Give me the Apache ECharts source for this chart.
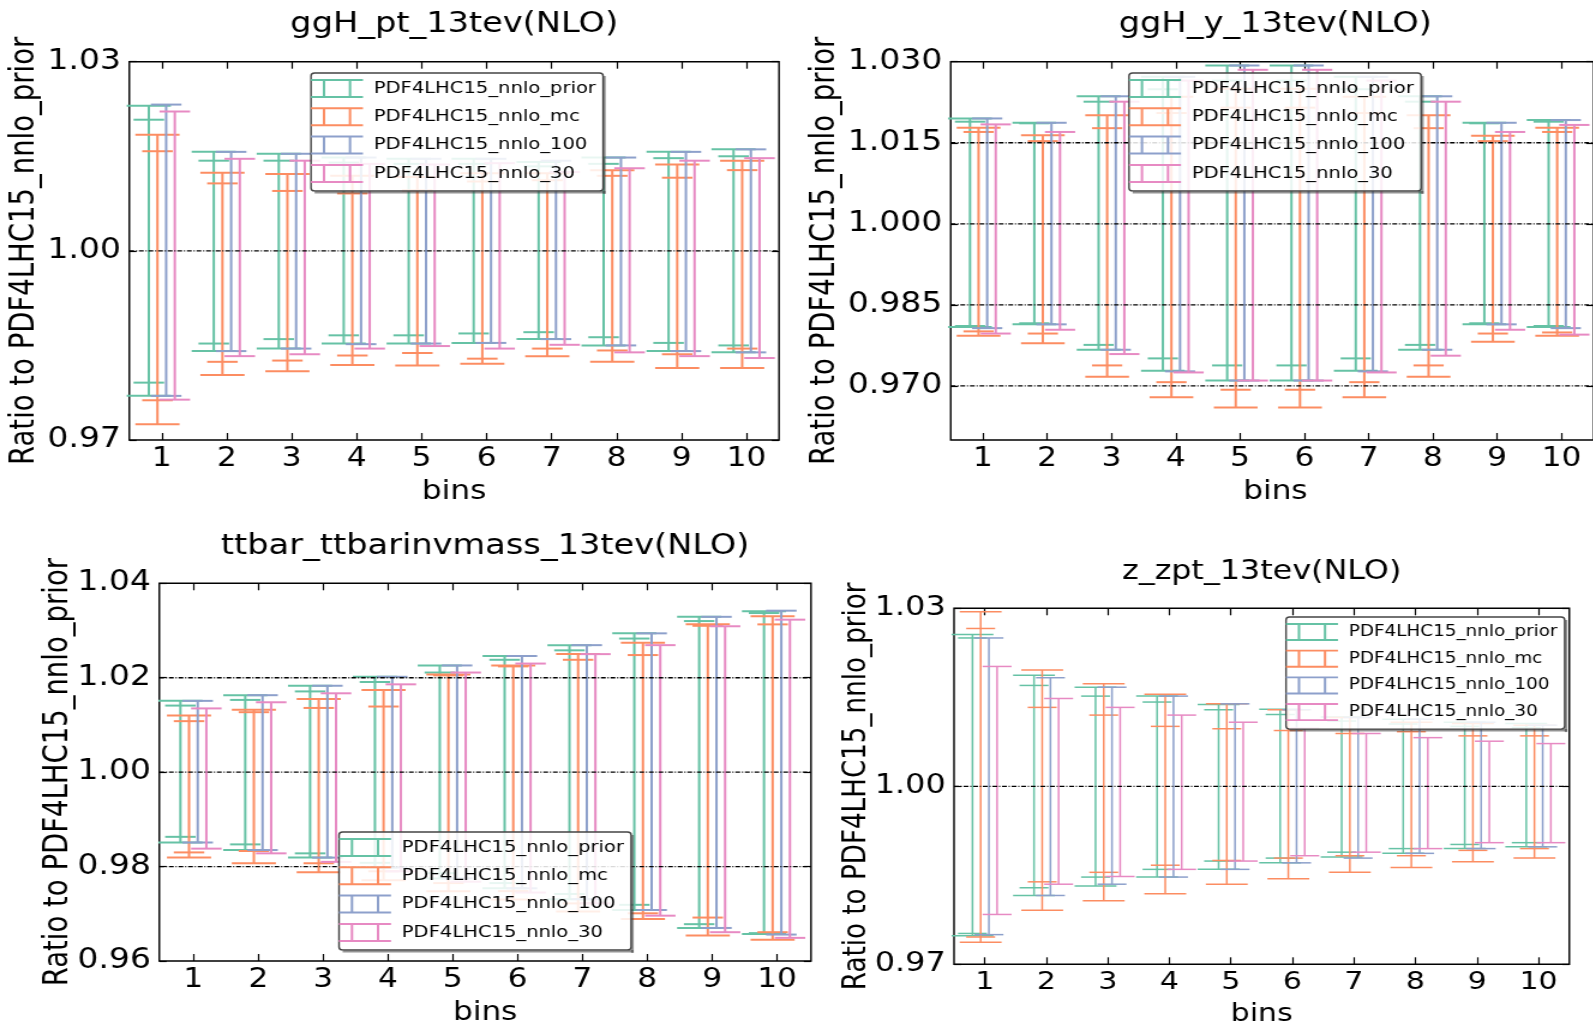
<!DOCTYPE html>
<html><head><meta charset="utf-8">
<script src="https://cdn.jsdelivr.net/npm/echarts@6/dist/echarts.min.js"></script>
<style>
html,body{margin:0;padding:0;background:#fff;overflow:hidden;width:1593px;height:1026px}
#wrap{width:1593px;height:1026px;overflow:hidden;position:relative;background:#fff}
#chart{width:1328px;height:1026px;transform:scaleX(1.2);transform-origin:0 0;position:absolute;left:0;top:0}
</style></head><body><div id="wrap"><div id="chart"></div></div>
<script>
// ---------------- data ----------------
const binLabels = [1, 2, 3, 4, 5, 6, 7, 8, 9, 10];
const seriesNames = ['PDF4LHC15_nnlo_prior', 'PDF4LHC15_nnlo_mc', 'PDF4LHC15_nnlo_100', 'PDF4LHC15_nnlo_30'];
const titles = ['ggH_pt_13tev(NLO)', 'ggH_y_13tev(NLO)', 'ttbar_ttbarinvmass_13tev(NLO)', 'z_zpt_13tev(NLO)'];
const xName = 'bins';
const yName = 'Ratio to PDF4LHC15_nnlo_prior';

// y tick labels per panel
const ptYTicks = [0.97, 1.00, 1.03];
const yYTicks = [0.970, 0.985, 1.000, 1.015, 1.030];
const ttYTicks = [0.96, 0.98, 1.00, 1.02, 1.04];
const zYTicks = [0.97, 1.00, 1.03];
// dotted reference lines
const ptGrid = [1.00];
const yGrid = [0.970, 0.985, 1.000, 1.015];
const ttGrid = [0.98, 1.00, 1.02];
const zGrid = [1.00];

// Monte Carlo sets: [outerLow, innerLow, innerHigh, outerHigh] ; Hessian sets: [low, high]
const ptPrior = [[0.9770,0.9791,1.0208,1.0230],[0.9841,0.9853,1.0143,1.0157],[0.9845,0.9860,1.0143,1.0154],[0.9853,0.9866,1.0140,1.0148],[0.9853,0.9866,1.0138,1.0146],[0.9854,0.9869,1.0138,1.0146],[0.9860,0.9871,1.0134,1.0141],[0.9850,0.9863,1.0138,1.0148],[0.9841,0.9854,1.0147,1.0157],[0.9839,0.9850,1.0150,1.0161]];
const ptMc = [[0.9725,0.9763,1.0158,1.0184],[0.9803,0.9824,1.0107,1.0124],[0.9809,0.9826,1.0095,1.0122],[0.9819,0.9834,1.0091,1.0119],[0.9818,0.9838,1.0096,1.0117],[0.9821,0.9829,1.0110,1.0123],[0.9833,0.9845,1.0112,1.0123],[0.9824,0.9842,1.0119,1.0128],[0.9814,0.9836,1.0116,1.0137],[0.9814,0.9845,1.0128,1.0143]];
const ptH100 = [[0.9770,1.0232],[0.9841,1.0157],[0.9845,1.0154],[0.9852,1.0148],[0.9853,1.0146],[0.9854,1.0146],[0.9860,1.0143],[0.9850,1.0148],[0.9841,1.0157],[0.9839,1.0161]];
const ptH30 = [[0.9764,1.0221],[0.9833,1.0146],[0.9836,1.0143],[0.9845,1.0138],[0.9849,1.0137],[0.9845,1.0139],[0.9851,1.0125],[0.9839,1.0131],[0.9833,1.0143],[0.9830,1.0147]];

const yPrior = [[0.9809,0.9811,1.0189,1.0195],[0.9814,0.9816,1.0186,1.0187],[0.9767,0.9776,1.0226,1.0236],[0.9728,0.9751,1.0249,1.0272],[0.9710,0.9738,1.0265,1.0293],[0.9710,0.9738,1.0265,1.0293],[0.9728,0.9751,1.0249,1.0272],[0.9767,0.9776,1.0226,1.0236],[0.9814,0.9816,1.0186,1.0187],[0.9809,0.9811,1.0189,1.0192]];
const yMc = [[0.9793,0.9801,1.0170,1.0178],[0.9779,0.9797,1.0153,1.0164],[0.9717,0.9738,1.0177,1.0201],[0.9679,0.9707,1.0205,1.0235],[0.9660,0.9693,1.0215,1.0250],[0.9660,0.9693,1.0215,1.0250],[0.9679,0.9707,1.0205,1.0235],[0.9717,0.9738,1.0177,1.0201],[0.9782,0.9797,1.0153,1.0163],[0.9793,0.9799,1.0170,1.0178]];
const yH100 = [[0.9807,1.0195],[0.9814,1.0187],[0.9767,1.0236],[0.9727,1.0272],[0.9710,1.0293],[0.9710,1.0293],[0.9727,1.0272],[0.9767,1.0236],[0.9814,1.0187],[0.9807,1.0192]];
const yH30 = [[0.9797,1.0184],[0.9804,1.0170],[0.9759,1.0226],[0.9725,1.0265],[0.9710,1.0285],[0.9710,1.0285],[0.9725,1.0265],[0.9756,1.0226],[0.9804,1.0170],[0.9795,1.0183]];

const ttPrior = [[0.9851,0.9863,1.0141,1.0151],[0.9835,0.9847,1.0153,1.0163],[0.9819,0.9828,1.0171,1.0183],[0.9798,0.9808,1.0191,1.0202],[0.9775,0.9786,1.0211,1.0226],[0.9754,0.9765,1.0238,1.0246],[0.9731,0.9742,1.0258,1.0269],[0.9708,0.9719,1.0283,1.0294],[0.9670,0.9678,1.0320,1.0329],[0.9657,0.9659,1.0337,1.0341]];
const ttMc = [[0.9819,0.9830,1.0108,1.0120],[0.9807,0.9833,1.0127,1.0132],[0.9788,0.9807,1.0136,1.0155],[0.9771,0.9790,1.0139,1.0174],[0.9748,0.9765,1.0205,1.0207],[0.9730,0.9748,1.0224,1.0226],[0.9705,0.9722,1.0238,1.0250],[0.9689,0.9701,1.0248,1.0274],[0.9654,0.9692,1.0310,1.0313],[0.9645,0.9661,1.0313,1.0330]];
const ttH100 = [[0.9851,1.0151],[0.9835,1.0163],[0.9819,1.0183],[0.9798,1.0202],[0.9775,1.0226],[0.9754,1.0246],[0.9731,1.0269],[0.9708,1.0294],[0.9670,1.0329],[0.9656,1.0342]];
const ttH30 = [[0.9838,1.0135],[0.9828,1.0148],[0.9810,1.0167],[0.9790,1.0186],[0.9768,1.0211],[0.9745,1.0230],[0.9722,1.0250],[0.9696,1.0269],[0.9661,1.0309],[0.9649,1.0323]];

const zPrior = [[0.9748,0.9752,1.0250,1.0256],[0.9816,0.9829,1.0170,1.0187],[0.9832,0.9847,1.0152,1.0167],[0.9847,0.9860,1.0142,1.0152],[0.9860,0.9874,1.0129,1.0138],[0.9871,0.9879,1.0121,1.0130],[0.9881,0.9889,1.0110,1.0117],[0.9887,0.9895,1.0105,1.0113],[0.9895,0.9902,1.0101,1.0108],[0.9898,0.9905,1.0099,1.0106]];
const zMc = [[0.9737,0.9746,1.0266,1.0294],[0.9791,0.9839,1.0133,1.0196],[0.9807,0.9855,1.0120,1.0173],[0.9819,0.9867,1.0101,1.0155],[0.9835,0.9875,1.0097,1.0139],[0.9844,0.9879,1.0094,1.0129],[0.9855,0.9883,1.0089,1.0116],[0.9863,0.9883,1.0092,1.0108],[0.9873,0.9892,1.0085,1.0106],[0.9879,0.9895,1.0085,1.0103]];
const zH100 = [[0.9750,1.0250],[0.9816,1.0183],[0.9835,1.0167],[0.9847,1.0152],[0.9860,1.0139],[0.9871,1.0129],[0.9879,1.0116],[0.9887,1.0113],[0.9895,1.0108],[0.9898,1.0103]];
const zH30 = [[0.9784,1.0202],[0.9835,1.0148],[0.9848,1.0133],[0.9860,1.0120],[0.9874,1.0108],[0.9883,1.0098],[0.9889,1.0089],[0.9895,1.0082],[0.9905,1.0076],[0.9905,1.0072]];

// ---------------- layout / style ----------------
const SX = 1.2; // the page is stretched horizontally like the reference
const colors = ['#66c2a5', '#fc8d62', '#8da0cb', '#e78ac3'];
const offsets = [-0.2, -0.067, 0.067, 0.2];
const CAP_WIDE = 0.68, CAP_NARROW = 0.47;
const FONT = 'DejaVu Sans';

const panels = [
  {data:[ptPrior,ptMc,ptH100,ptH30], yTicks:ptYTicks, gridVals:ptGrid, dec:2,
   L:129.3, R:779, T:61.7, B:440, xmin:0.5, xmax:10.5, ymin:0.97, ymax:1.03,
   titleY:25, binsY:492, nameX:25.4, legL:311, legT:73, fTitle:28, fTick:27.5, fX:26, fName:27.5, fLeg:16.3, legH:19, legGap:9.3, lw:2.0},
  {data:[yPrior,yMc,yH100,yH30], yTicks:yYTicks, gridVals:yGrid, dec:3,
   L:950.7, R:1600, T:61.7, B:440, xmin:0.5, xmax:10.5, ymin:0.96, ymax:1.03,
   titleY:25, binsY:492, nameX:825, legL:1129, legT:73, fTitle:28, fTick:27.5, fX:26, fName:27.5, fLeg:16.3, legH:19, legGap:9.3, lw:2.0},
  {data:[ttPrior,ttMc,ttH100,ttH30], yTicks:ttYTicks, gridVals:ttGrid, dec:2,
   L:159.3, R:811, T:583.3, B:961, xmin:0.475, xmax:10.525, ymin:0.96, ymax:1.04,
   titleY:547, binsY:1013, nameX:58.4, legL:339, legT:832, fTitle:28, fTick:27.5, fX:26, fName:27.5, fLeg:16.3, legH:19, legGap:9.3, lw:2.0},
  {data:[zPrior,zMc,zH100,zH30], yTicks:zYTicks, gridVals:zGrid, dec:2,
   L:954, R:1569.3, T:608.3, B:964.3, xmin:0.5, xmax:10.5, ymin:0.97, ymax:1.03,
   titleY:572, binsY:1014, nameX:857, legL:1286, legT:617, fTitle:26.5, fTick:26.5, fX:25, fName:26.2, fLeg:15.3, legH:18, legGap:8.7, lw:1.5}
];

// legend handle: two error bars side by side (caps joined)
const ICON = 'path://M0,0H43.3V2H0Z M0,17H43.3V19H0Z M9.8,0H11.8V19H9.8Z M31.5,0H33.5V19H31.5Z';

function errRender(offset, hasInner, lw) {
  return function (params, api) {
    const x = api.value(0) + offset;
    const n = hasInner ? 4 : 2;
    const vals = [];
    for (let i = 1; i <= n; i++) vals.push(api.value(i));
    const lo = Math.min.apply(null, vals), hi = Math.max.apply(null, vals);
    const p0 = api.coord([x, lo]), p1 = api.coord([x, hi]);
    const wWide = api.size([CAP_WIDE, 0])[0], wNarrow = api.size([CAP_NARROW, 0])[0];
    const style = {stroke: api.visual('color'), lineWidth: lw, fill: null};
    const children = [{type: 'line', shape: {x1: p0[0], y1: p0[1], x2: p1[0], y2: p1[1]}, style: style}];
    const caps = hasInner
      ? [[vals[0], wWide], [vals[3], wWide], [vals[1], wNarrow], [vals[2], wNarrow]]
      : [[vals[0], wNarrow], [vals[1], wNarrow]];
    caps.forEach(function (c) {
      const p = api.coord([x, c[0]]);
      children.push({type: 'line', shape: {x1: p[0] - c[1] / 2, y1: p[1], x2: p[0] + c[1] / 2, y2: p[1]}, style: style});
    });
    return {type: 'group', children: children};
  };
}

function gridRender(xmin, xmax) {
  return function (params, api) {
    const v = api.value(0);
    const a = api.coord([xmin, v]), b = api.coord([xmax, v]);
    return {type: 'line', shape: {x1: a[0], y1: a[1], x2: b[0], y2: b[1]},
      style: {stroke: '#000', lineWidth: 1.3, lineDash: [4, 1.5, 1, 1.5], fill: null}};
  };
}

// text measuring for the legend frame shadow
const mctx = document.createElement('canvas').getContext('2d');
function textW(t, size) { mctx.font = size + 'px "' + FONT + '"'; return mctx.measureText(t).width; }

const option = {animation: false, backgroundColor: '#fff', grid: [], xAxis: [], yAxis: [], series: [], legend: [], graphic: []};

panels.forEach(function (p, i) {
  const left = p.L / SX, width = (p.R - p.L) / SX;
  option.grid.push({left: left, top: p.T, width: width, height: p.B - p.T, show: true,
    borderColor: '#000', borderWidth: 1.4, backgroundColor: 'rgba(0,0,0,0)', containLabel: false});
  const tickStyle = {color: '#000', width: 1.2};
  option.xAxis.push({type: 'value', gridIndex: i, min: p.xmin, max: p.xmax, position: 'bottom',
    axisLine: {show: false}, splitLine: {show: false},
    axisTick: {show: true, inside: true, length: 7, customValues: binLabels, lineStyle: tickStyle},
    axisLabel: {show: true, customValues: binLabels, margin: 6, color: '#000', fontSize: p.fX, fontFamily: FONT,
      formatter: function (v) { return String(Math.round(v)); }}});
  option.xAxis.push({type: 'value', gridIndex: i, min: p.xmin, max: p.xmax, position: 'top',
    axisLine: {show: false}, splitLine: {show: false},
    axisTick: {show: true, inside: true, length: 7, customValues: binLabels, lineStyle: tickStyle},
    axisLabel: {show: false}});
  option.yAxis.push({type: 'value', gridIndex: i, min: p.ymin, max: p.ymax, position: 'left',
    axisLine: {show: false}, splitLine: {show: false},
    axisTick: {show: true, inside: true, length: 6, customValues: p.yTicks, lineStyle: tickStyle},
    axisLabel: {show: true, customValues: p.yTicks, margin: 7, color: '#000', fontSize: p.fTick, fontFamily: FONT,
      formatter: (function (d) { return function (v) { return v.toFixed(d); }; })(p.dec)}});
  option.yAxis.push({type: 'value', gridIndex: i, min: p.ymin, max: p.ymax, position: 'right',
    axisLine: {show: false}, splitLine: {show: false},
    axisTick: {show: true, inside: true, length: 6, customValues: p.yTicks, lineStyle: tickStyle},
    axisLabel: {show: false}});

  p.data.forEach(function (rows, k) {
    const hasInner = rows[0].length === 4;
    option.series.push({type: 'custom', name: seriesNames[k], xAxisIndex: 2 * i, yAxisIndex: 2 * i,
      coordinateSystem: 'cartesian2d', z: 2, silent: true,
      itemStyle: {color: colors[k]}, color: colors[k],
      renderItem: errRender(offsets[k], hasInner, p.lw),
      data: rows.map(function (r, j) { return [binLabels[j]].concat(r); })});
  });
  option.series.push({type: 'custom', name: 'gridlines' + i, xAxisIndex: 2 * i, yAxisIndex: 2 * i,
    coordinateSystem: 'cartesian2d', z: 3, silent: true,
    renderItem: gridRender(p.xmin, p.xmax),
    data: p.gridVals.map(function (v) { return [v]; })});

  const pad = [6, 6, 8, 0], textPad = 4;
  option.legend.push({orient: 'vertical', left: p.legL / SX, top: p.legT, selectedMode: false, z: 10,
    data: seriesNames.map(function (n, k) { return {name: n, icon: ICON, itemStyle: {color: colors[k]}}; }),
    itemWidth: 43.3, itemHeight: p.legH, itemGap: p.legGap, symbolKeepAspect: false,
    textStyle: {fontSize: p.fLeg, fontFamily: FONT, color: '#000', padding: [0, 0, 0, textPad], lineHeight: p.legH},
    padding: pad, backgroundColor: 'rgba(255,255,255,0.85)', borderColor: '#444', borderWidth: 1.4,
    borderRadius: 3});
  // frame shadow (bottom and right strips just outside the legend box)
  const maxW = Math.max.apply(null, seriesNames.map(function (n) { return textW(n, p.fLeg); }));
  const bw = pad[3] + 43.3 + 5 + textPad + maxW + pad[1];
  const bh = pad[0] + 4 * p.legH + 3 * p.legGap + pad[2];
  const bx = p.legL / SX, by = p.legT;
  option.graphic.push({type: 'rect', z: 9, silent: true, shape: {x: bx + 3, y: by + bh, width: bw - 1, height: 2.5},
    style: {fill: 'rgba(60,60,60,0.55)'}});
  option.graphic.push({type: 'rect', z: 9, silent: true, shape: {x: bx + bw, y: by + 3, width: 2.2, height: bh},
    style: {fill: 'rgba(60,60,60,0.55)'}});

  const cx = left + width / 2;
  option.graphic.push({type: 'text', x: cx, y: p.titleY, silent: true,
    style: {text: titles[i], fontSize: p.fTitle, fontFamily: FONT, fill: '#000', align: 'center', verticalAlign: 'middle'}});
  option.graphic.push({type: 'text', x: cx, y: p.binsY, silent: true,
    style: {text: xName, fontSize: p.fX, fontFamily: FONT, fill: '#000', align: 'center', verticalAlign: 'middle'}});
  option.graphic.push({type: 'text', x: p.nameX / SX, y: p.T + (p.B - p.T) / 2, rotation: Math.PI / 2, silent: true,
    style: {text: yName, fontSize: p.fName, fontFamily: FONT, fill: '#000', align: 'center', verticalAlign: 'middle'}});
});

const chart = echarts.init(document.getElementById('chart'), null, {renderer: 'canvas', width: 1328, height: 1026});
chart.setOption(option);
</script>
</body></html>
